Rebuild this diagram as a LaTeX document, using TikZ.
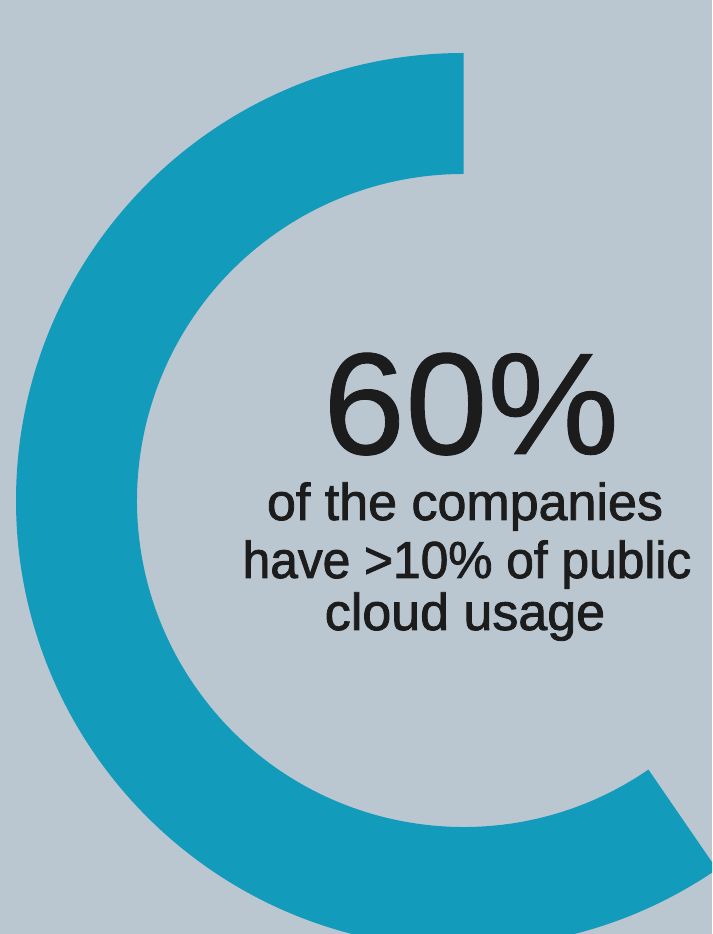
\documentclass[tikz,border=0pt]{standalone}
\usepackage{fontspec}
\setmainfont{Liberation Sans}
\newfontfamily\bigfont[FakeStretch=1.02,FakeBold=0.6]{Liberation Sans}
\newfontfamily\smallfont[FakeBold=1.6]{Liberation Sans}
\newfontfamily\smallfontb[FakeStretch=0.955,FakeBold=1.6]{Liberation Sans}
\definecolor{bgc}{RGB}{186,199,209}
\definecolor{ringc}{RGB}{19,155,187}
\definecolor{txtc}{RGB}{28,28,28}
\begin{document}
\begin{tikzpicture}[x=1pt,y=1pt,
  bigtxt/.style={anchor=base,inner sep=0pt,text=txtc,font=\bigfont\fontsize{145}{145}\selectfont},
  smalltxt/.style={anchor=base,inner sep=0pt,text=txtc,font=\smallfont\fontsize{52}{52}\selectfont},
  smalltxtb/.style={anchor=base,inner sep=0pt,text=txtc,font=\smallfontb\fontsize{52}{52}\selectfont}]
\useasboundingbox (0,0) rectangle (712,934);
\fill[bgc] (0,0) rectangle (712,934);
\begin{scope}
\clip (0,0) rectangle (712,934);
\begin{scope}[shift={(463.5,433.5)}]
\fill[ringc] (90:447.5) arc[start angle=90,end angle=304.5,radius=447.5]
  -- (304.5:326.5) arc[start angle=304.5,end angle=90,radius=326.5] -- cycle;
\end{scope}
\end{scope}
\node[bigtxt] (pct) at (471,480) {60\%};
\node[smalltxt] (l1) at (465,414) {of the companies};
\node[smalltxtb] (l2) at (467,356) {have >10\% of public};
\node[smalltxt] (l3) at (465,304) {cloud usage};
\end{tikzpicture}
\end{document}
